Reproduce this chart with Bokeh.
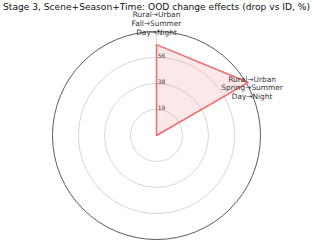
import numpy as np
from bokeh.plotting import figure
from bokeh.embed import file_html
from bokeh.resources import INLINE
from bokeh.core.properties import value

# ---- data ----
title_text = "Stage 3, Scene+Season+Time: OOD change effects (drop vs ID, %)"
categories = ["Rural\u2192Urban\nFall\u2192Summer\nDay\u2192Night",
              "Rural\u2192Urban\nSpring\u2192Summer\nDay\u2192Night",
              "", "", "", ""]
drops = [65.5, 76.5, 0, 0, 0, 0]
r_max = 75.0
tick_values = [18.75, 37.5, 56.25]
tick_labels = ["19", "38", "56"]

# ---- geometry / style ----
W, H = 312, 241
s = 104 / 75.0          # px per data unit
cx_px, cy_px = 156, 135
FONT = "DejaVu Sans"

x0, x1 = -cx_px / s, (W - cx_px) / s
y1, y0 = cy_px / s, -(H - cy_px) / s

p = figure(width=W, height=H, x_range=(x0, x1), y_range=(y0, y1),
           output_backend="svg", toolbar_location=None, min_border=0)
p.axis.visible = False
p.grid.visible = False
p.outline_line_color = None
p.background_fill_color = "white"
p.border_fill_color = "white"

n = len(categories)
theta = np.arange(n) * 2 * np.pi / n

# grid rings
p.circle(x=[0] * len(tick_values), y=[0] * len(tick_values), radius=tick_values,
         fill_color=None, line_color="#d6d6d6", line_width=1)
# outer ring
p.circle(x=[0], y=[0], radius=[r_max], fill_color=None, line_color="#5a5a5a", line_width=1)

# spokes for labelled axes
for th, cat in zip(theta, categories):
    if cat:
        p.line([0, r_max * np.sin(th)], [0, r_max * np.cos(th)], line_color="#d6d6d6", line_width=1)

# polygon
vals = np.array(drops, dtype=float)
px = list(vals * np.sin(theta)) + [vals[0] * np.sin(theta[0])]
py = list(vals * np.cos(theta)) + [vals[0] * np.cos(theta[0])]
p.patch(px, py, fill_color="#f08080", fill_alpha=0.18, line_color="#f06a6a", line_width=1.5)

# radial tick labels
p.text(x=[0.9] * len(tick_values), y=tick_values, text=tick_labels,
       text_font=value(FONT), text_font_size="6px", text_color="#444444",
       text_align="left", text_baseline="bottom")

# category labels
label_r = [80.8, 77.0]
label_th_extra = [0.0, np.deg2rad(3.5)]
label_gap_px = [9.0, 8.2]
for i, (th, cat) in enumerate(zip(theta, categories)):
    if not cat:
        continue
    lines = cat.split("\n")
    r = label_r[i]
    gap = label_gap_px[i] / s
    t = th + label_th_extra[i]
    cxl, cyl = r * np.sin(t), r * np.cos(t)
    k = len(lines)
    ys = [cyl + (k - 1) / 2 * gap - j * gap for j in range(k)]
    p.text(x=[cxl] * k, y=ys, text=lines, text_font=value(FONT),
           text_font_size="7.4px", text_color="#333333",
           text_align="center", text_baseline="middle")

# title
p.text(x=[0], y=[y1 - 6.5 / s], text=[title_text], text_font=value(FONT),
       text_font_size="9.1px", text_color="#111111",
       text_align="center", text_baseline="middle")

open("out.html", "w").write(file_html(p, INLINE))
